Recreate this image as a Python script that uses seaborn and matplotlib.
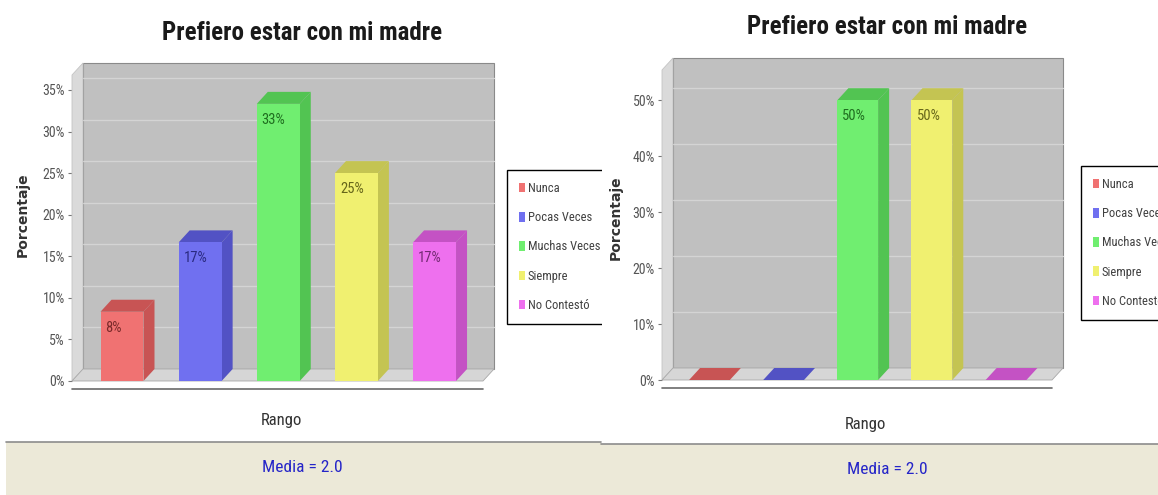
import numpy as np
import matplotlib
matplotlib.use("Agg")
import matplotlib.pyplot as plt
import matplotlib.transforms as mtransforms
from matplotlib.patches import Polygon, Rectangle, Patch
from matplotlib.lines import Line2D
from matplotlib import font_manager
import seaborn as sns

# data
categories = ["Nunca", "Pocas Veces", "Muchas Veces", "Siempre", "No Contestó"]
left_values = [8.33, 16.67, 33.33, 25.0, 16.67]
right_values = [0.0, 0.0, 50.0, 50.0, 0.0]
left_ticks = [0, 5, 10, 15, 20, 25, 30, 35]
right_ticks = [0, 10, 20, 30, 40, 50]
title = "Prefiero estar con mi madre"
mean_text = "Media = 2.0"

front_colors = ["#F07272", "#7070F0", "#70EE70", "#F0F070", "#EE70EE"]
dark_colors = ["#C85454", "#5252C4", "#52C452", "#C4C452", "#C452C4"]
label_colors = ["#7A2A2A", "#2A2A80", "#1F6E1F", "#66661A", "#742A74"]

sns.set_style("white")
installed = {f.name for f in font_manager.fontManager.ttflist}
candidates = ["Roboto Condensed", "Open Sans Condensed", "DejaVu Sans Condensed",
              "Liberation Sans Narrow", "Arial Narrow", "Noto Sans Condensed"]
NARROW = [c for c in candidates if c in installed] + ["DejaVu Sans"]
plt.rcParams["font.family"] = NARROW
narrow_found = len(NARROW) > 1

W, H = 1158, 495
fig = plt.figure(figsize=(W / 100, H / 100), dpi=100)
ident = mtransforms.IdentityTransform()

# sizes depend on whether a condensed family exists
title_fs = 18 if narrow_found else 15
small_fs = 9.5 if narrow_found else 8


def fx(x):
    return x / W


def fy(y):
    return 1 - y / H


def panel(rect, values, ymax, yticks, dx=11, dy=12):
    ax = fig.add_axes(rect)
    sns.barplot(x=categories, y=values, hue=categories, palette=front_colors,
                width=0.55, saturation=1, legend=False, ax=ax, zorder=5,
                linewidth=0)
    ax.set_xlim(-0.64, 4.62)
    ax.set_ylim(0, ymax)
    ax.set_yticks(yticks)
    ax.set_yticklabels([f"{t}%" for t in yticks])
    ax.set_xticks([])
    ax.set_xlabel("")
    ax.set_ylabel("")
    ax.patch.set_visible(False)
    for s in ax.spines.values():
        s.set_visible(False)
    ax.tick_params(axis="y", left=True, length=3, width=0.8, color="#777777",
                   pad=2, labelsize=small_fs + 0.5, labelcolor="#555555")

    # 3D box: back wall, gridlines, left wall, floor
    (x0, y0), (x1, y1) = ax.transAxes.transform([(0, 0), (1, 1)])
    ax.add_patch(Rectangle((x0 + dx, y0 + dy), x1 - x0, y1 - y0, transform=ident,
                           facecolor="#C0C0C0", edgecolor="#8A8A8A", lw=0.8,
                           clip_on=False, zorder=0))
    for t in yticks[1:]:
        _, yt = ax.transData.transform((0, t))
        ax.add_line(Line2D([x0 + dx, x1 + dx], [yt + dy, yt + dy], transform=ident,
                           color="#D4D4D4", lw=1, clip_on=False, zorder=1))
    ax.add_patch(Polygon([(x0, y0), (x0, y1), (x0 + dx, y1 + dy), (x0 + dx, y0 + dy)],
                         transform=ident, facecolor="#DADADA", edgecolor="#C4C4C4",
                         lw=0.6, clip_on=False, zorder=2))
    ax.add_patch(Polygon([(x0, y0), (x1, y0), (x1 + dx, y0 + dy), (x0 + dx, y0 + dy)],
                         transform=ident, facecolor="#D6D6D6", edgecolor="#A8A8A8",
                         lw=0.6, clip_on=False, zorder=2))
    ax.add_line(Line2D([x0, x1], [y0 - 8, y0 - 8], transform=ident, color="#6A6A6A",
                       lw=1.2, clip_on=False, zorder=2))

    # side and top faces of the bars, plus the value labels
    for i, cont in enumerate(ax.containers):
        for bar, v in zip(cont, [values[i]]):
            bx0, bx1 = bar.get_x(), bar.get_x() + bar.get_width()
            h = bar.get_height()
            (p0x, p0y), (p1x, p1y) = ax.transData.transform([(bx0, 0), (bx1, h)])
            ax.add_patch(Polygon([(p1x, p0y), (p1x, p1y), (p1x + dx, p1y + dy),
                                  (p1x + dx, p0y + dy)], transform=ident,
                                 facecolor=dark_colors[i], edgecolor="none",
                                 clip_on=False, zorder=4))
            ax.add_patch(Polygon([(p0x, p1y), (p1x, p1y), (p1x + dx, p1y + dy),
                                  (p0x + dx, p1y + dy)], transform=ident,
                                 facecolor=dark_colors[i], edgecolor="none",
                                 clip_on=False, zorder=4))
            if v > 0:
                ax.annotate(f"{v:.0f}%", xy=(bx0, h), xytext=(5, -16),
                            textcoords="offset pixels", ha="left", va="center",
                            fontsize=small_fs + 1, color=label_colors[i], zorder=6)
    return ax


axL = panel([fx(72), fy(381), fx(411), 306 / H], left_values, 36.8, left_ticks)
axR = panel([fx(662), fy(380), fx(390), 310 / H], right_values, 55.4, right_ticks)

# bottom beige bands
fig.patches.append(Rectangle((fx(6), 0), fx(595), fy(442), transform=fig.transFigure,
                             facecolor="#ECE9D8", edgecolor="none", zorder=0))
fig.patches.append(Rectangle((fx(601), 0), fx(557), fy(444), transform=fig.transFigure,
                             facecolor="#ECE9D8", edgecolor="none", zorder=0))
fig.lines.append(Line2D([fx(6), fx(601)], [fy(442), fy(442)], transform=fig.transFigure,
                        color="#8C8C8C", lw=1.2))
fig.lines.append(Line2D([fx(601), fx(1158)], [fy(444), fy(444)], transform=fig.transFigure,
                        color="#8C8C8C", lw=1.2))

handles = [Patch(facecolor=c, edgecolor="none") for c in front_colors]
for lx, ly in [(507, 170), (1081, 166)]:
    leg = fig.legend(handles, categories, loc="upper left",
                     bbox_to_anchor=(fx(lx), fy(ly)), frameon=True, fancybox=False,
                     edgecolor="black", framealpha=1, fontsize=9,
                     handlelength=0.5, handleheight=0.8, handletextpad=0.2,
                     labelspacing=1.3, borderpad=0.95, borderaxespad=0)
    leg.get_frame().set_linewidth(1.0)
    for t in leg.get_texts():
        t.set_color("#404040")

# the right screenshot covers the end of the left legend box
fig.patches.append(Rectangle((fx(602), fy(335)), fx(16), 180 / H, transform=fig.transFigure,
                             facecolor="white", edgecolor="none", zorder=10))

for cx, ty, rx, ry, mx, my, px, py in [(302, 33, 281, 421, 302, 467, 23, 215),
                                       (887, 27, 865, 424, 887, 469, 616, 218)]:
    fig.text(fx(cx), fy(ty), title, ha="center", va="center", fontsize=title_fs,
             fontweight="bold", color="#1A1A1A")
    fig.text(fx(rx), fy(ry), "Rango", ha="center", va="center", fontsize=12,
             color="#333333")
    fig.text(fx(mx), fy(my), mean_text, ha="center", va="center", fontsize=12.5,
             color="#2424C8")
    fig.text(fx(px), fy(py), "Porcentaje", ha="center", va="center", rotation=90,
             fontsize=10, fontweight="bold", color="#333333",
             family=["DejaVu Sans"], zorder=12)

fig.savefig("out.png", dpi=100, facecolor="white")
